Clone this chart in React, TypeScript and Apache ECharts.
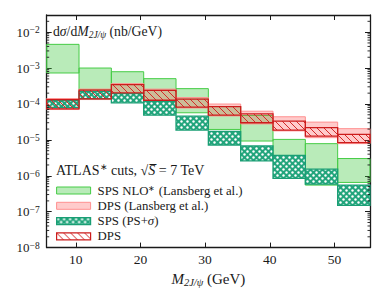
import React, { useEffect, useRef } from 'react';
import * as echarts from 'echarts';

// bin edges in GeV
const binEdges = [5.5, 10.5, 15.5, 20.5, 25.5, 30.5, 35.5, 40.5, 45.5, 50.5, 55.5];
// SPS NLO* (Lansberg et al.) band
const nloLow = [7.28e-4, 2.51e-4, 1.95e-4, 1.17e-4, 5.68e-5, 1.95e-5, 9.28e-6, 2.89e-6, 5.5e-7, 6.53e-7];
const nloHigh = [4.57e-3, 1.0e-3, 7.9e-4, 5.06e-4, 2.67e-4, 8.5e-5, 4.78e-5, 1.03e-5, 7.85e-6, 3.02e-6];
// DPS (Lansberg et al.) band
const dpsLansLow = [7.0e-5, 1.326e-4, 1.943e-4, 1.205e-4, 7.71e-5, 4.63e-5, 2.78e-5, 1.78e-5, 1.152e-5, 7.86e-6];
const dpsLansHigh = [1.413e-4, 2.59e-4, 3.68e-4, 2.59e-4, 1.506e-4, 9.95e-5, 6.28e-5, 4.4e-5, 3.12e-5, 2.05e-5];
// SPS (PS+sigma) band
const spsLow = [7.96e-5, 1.413e-4, 1.074e-4, 4.87e-5, 1.87e-5, 7.19e-6, 2.59e-6, 8.43e-7, 5.86e-7, 1.49e-7];
const spsHigh = [1.244e-4, 2.25e-4, 1.943e-4, 1.19e-4, 4.57e-5, 1.72e-5, 6.74e-6, 3.72e-6, 1.53e-6, 5.5e-7];
// DPS band
const dpsLow = [7.32e-5, 1.386e-4, 2.03e-4, 1.268e-4, 8.11e-5, 4.87e-5, 3.0e-5, 1.87e-5, 1.276e-5, 8.37e-6];
const dpsHigh = [1.326e-4, 2.43e-4, 3.45e-4, 2.4e-4, 1.369e-4, 8.48e-5, 5.32e-5, 3.32e-5, 2.18e-5, 1.42e-5];

const xMin = 5.5;
const xMax = 55.5;
const yMin = 1e-8;
const yMax = 3e-2;
const yDecades = [-8, -7, -6, -5, -4, -3, -2];
const minorMultipliers = [2, 3, 4, 5, 6, 7, 8, 9];

const seriesNames = ['SPS NLO* (Lansberg et al.)', 'DPS (Lansberg et al.)', 'SPS (PS+σ)', 'DPS'];

const FONT = 'Liberation Serif';
const INK = '#1a1a1a';

function makeHatch() {
  const s = 7;
  const c = document.createElement('canvas');
  c.width = s; c.height = s;
  const g = c.getContext('2d')!;
  g.strokeStyle = '#d42a2a';
  g.lineWidth = 1;
  for (const k of [-s, 0, s]) {
    g.beginPath();
    g.moveTo(k, 0);
    g.lineTo(k + s, s);
    g.stroke();
  }
  return { image: c, repeat: 'repeat', imageWidth: s, imageHeight: s };
}

function makeCross() {
  const s = 6;
  const c = document.createElement('canvas');
  c.width = s; c.height = s;
  const g = c.getContext('2d')!;
  g.fillStyle = '#22a57c';
  g.fillRect(0, 0, s, s);
  g.fillStyle = '#ffffff';
  for (const [cx, cy] of [[1.5, 1.5], [4.5, 4.5]]) {
    g.beginPath();
    g.arc(cx, cy, 1.2, 0, Math.PI * 2);
    g.fill();
  }
  return { image: c, repeat: 'repeat', imageWidth: s, imageHeight: s };
}

function bandSeries(name: string, lows: number[], highs: number[], fill: any, stroke: string, lw: number, z: number) {
  return {
    type: 'custom',
    name,
    z,
    silent: true,
    coordinateSystem: 'cartesian2d',
    xAxisIndex: 0,
    yAxisIndex: 0,
    encode: { x: [0, 1], y: [2, 3] },
    itemStyle: { color: fill, borderColor: stroke, borderWidth: lw },
    data: lows.map((lo, i) => [binEdges[i], binEdges[i + 1], lo, highs[i]]),
    renderItem: (params: any, api: any) => {
      const p1 = api.coord([api.value(0), api.value(3)]);
      const p2 = api.coord([api.value(1), api.value(2)]);
      return {
        type: 'rect',
        shape: { x: p1[0], y: p1[1], width: p2[0] - p1[0], height: p2[1] - p1[1] },
        style: { fill, stroke, lineWidth: lw },
      };
    },
  };
}

export default function App() {
  const ref = useRef<HTMLDivElement>(null);
  useEffect(() => {
    if (!ref.current) return;
    document.body.style.margin = '0';
    const chart = echarts.init(ref.current, null, { renderer: 'svg' });
    const hatch = makeHatch();
    const cross = makeCross();
    const nloFill = 'rgba(60,200,60,0.36)';
    const nloStroke = '#46cc46';
    const pinkFill = 'rgba(255,70,70,0.28)';
    const pinkStroke = '#ff9090';
    const crossStroke = '#1a9e74';
    const redStroke = '#cc1c1c';

    const minorVals: number[] = [];
    yDecades.forEach((e) => {
      minorMultipliers.forEach((m) => {
        const v = m * Math.pow(10, e);
        if (v < yMax) minorVals.push(v);
      });
    });

    const axisLineStyle = { color: INK, width: 1.3 };
    const xBase = {
      type: 'value',
      min: xMin,
      max: xMax,
      splitLine: { show: false },
      axisLine: { lineStyle: axisLineStyle },
      axisTick: { inside: true, length: 5, lineStyle: { color: INK, width: 1 } },
    };
    const yBase = {
      type: 'log',
      logBase: 10,
      min: yMin,
      max: yMax,
      splitLine: { show: false },
      minorTick: { show: false },
      axisLine: { show: true, lineStyle: axisLineStyle },
      axisTick: { inside: true, length: 5, lineStyle: { color: INK, width: 1 } },
    };

    const option: any = {
      animation: false,
      backgroundColor: '#ffffff',
      grid: { left: 46.7, right: 20, top: 15, bottom: 44 },
      xAxis: [
        {
          ...xBase,
          position: 'bottom',
          axisLabel: {
            margin: 5,
            color: INK,
            fontFamily: FONT,
            fontSize: 13.5,
            formatter: (v: number) => (Math.abs(v % 10) < 1e-6 ? String(v) : ''),
          },
          name: '{i|M}{sub|2J/ψ}{r| (GeV)}',
          nameLocation: 'middle',
          nameGap: 21,
          nameTextStyle: {
            color: INK,
            fontFamily: FONT,
            rich: {
              i: { fontSize: 15, fontStyle: 'italic', fontFamily: FONT, color: INK, lineHeight: 18 },
              sub: { fontSize: 10.5, fontStyle: 'italic', fontFamily: FONT, color: INK, lineHeight: 10, verticalAlign: 'bottom' },
              r: { fontSize: 15, fontFamily: FONT, color: INK, lineHeight: 18 },
            },
          },
        },
        { ...xBase, position: 'top', axisLabel: { show: false } },
      ],
      yAxis: [
        {
          ...yBase,
          position: 'left',
          axisLabel: {
            margin: 7,
            color: INK,
            formatter: (v: number) => {
              const e = Math.log10(v);
              const r = Math.round(e);
              if (Math.abs(e - r) > 1e-6) return '';
              return `{b|10}{s|−${-r}}`;
            },
            rich: {
              b: { fontSize: 13, fontFamily: FONT, color: INK, lineHeight: 14 },
              s: { fontSize: 9.5, fontFamily: FONT, color: INK, lineHeight: 9, verticalAlign: 'top' },
            },
          },
        },
        { ...yBase, position: 'right', axisLabel: { show: false } },
      ],
      legend: {
        orient: 'vertical',
        left: 56,
        top: 184,
        itemWidth: 34,
        itemHeight: 7,
        itemGap: 2.3,
        selectedMode: false,
        icon: 'rect',
        padding: 0,
        data: [
          { name: seriesNames[0], itemStyle: { color: nloFill, borderColor: nloStroke, borderWidth: 1 } },
          { name: seriesNames[1], itemStyle: { color: pinkFill, borderColor: pinkStroke, borderWidth: 1 } },
          { name: seriesNames[2], itemStyle: { color: cross, borderColor: crossStroke, borderWidth: 1.2 } },
          { name: seriesNames[3], itemStyle: { color: hatch, borderColor: redStroke, borderWidth: 1.2 } },
        ],
        formatter: (name: string) => {
          if (name === seriesNames[0]) return '{r|SPS NLO}{sup|∗}{r| (Lansberg et al.)}';
          if (name === seriesNames[1]) return '{r|DPS (Lansberg et al.)}';
          if (name === seriesNames[2]) return '{r|SPS (PS+}{i|σ}{r|)}';
          return '{r|DPS}';
        },
        textStyle: {
          padding: [0, 0, 0, 2],
          rich: {
            r: { fontSize: 12.8, fontFamily: FONT, color: INK, lineHeight: 13 },
            i: { fontSize: 12.8, fontFamily: FONT, fontStyle: 'italic', color: INK, lineHeight: 13 },
            sup: { fontSize: 8, fontFamily: FONT, color: INK, lineHeight: 8, verticalAlign: 'top' },
          },
        },
      },
      graphic: [
        {
          type: 'text',
          left: 53,
          top: 24,
          silent: true,
          style: {
            text: '{r|d}{i|σ}{r|/d}{i|M}{sub|2J/ψ}{r| (nb/GeV)}',
            rich: {
              r: { fontSize: 13.7, fontFamily: FONT, fill: INK, lineHeight: 17 },
              i: { fontSize: 13.7, fontFamily: FONT, fontStyle: 'italic', fill: INK, lineHeight: 17 },
              sub: { fontSize: 9.5, fontFamily: FONT, fontStyle: 'italic', fill: INK, lineHeight: 9, verticalAlign: 'bottom' },
            },
          },
        },
        {
          type: 'text',
          left: 56,
          top: 162,
          silent: true,
          style: {
            text: '{r|ATLAS}{sup|∗}{r| cuts, √}{i|S̅}{r| = 7 TeV}',
            rich: {
              r: { fontSize: 14, fontFamily: FONT, fill: INK, lineHeight: 17 },
              i: { fontSize: 14, fontFamily: FONT, fontStyle: 'italic', fill: INK, lineHeight: 17 },
              sup: { fontSize: 9, fontFamily: FONT, fill: INK, lineHeight: 9, verticalAlign: 'top' },
            },
          },
        },
      ],
      series: [
        bandSeries(seriesNames[0], nloLow, nloHigh, nloFill, nloStroke, 1, 1),
        bandSeries(seriesNames[1], dpsLansLow, dpsLansHigh, pinkFill, pinkStroke, 1, 2),
        bandSeries(seriesNames[2], spsLow, spsHigh, cross, crossStroke, 1.3, 3),
        bandSeries(seriesNames[3], dpsLow, dpsHigh, hatch, redStroke, 1.3, 4),
        {
          type: 'custom',
          name: 'minorTicks',
          silent: true,
          z: 10,
          coordinateSystem: 'cartesian2d',
          encode: { y: 0 },
          data: minorVals.map((v) => [v]),
          renderItem: (params: any, api: any) => {
            const cs = params.coordSys;
            const y = api.coord([xMin, api.value(0)])[1];
            const style = { stroke: INK, lineWidth: 0.9 };
            return {
              type: 'group',
              children: [
                { type: 'line', shape: { x1: cs.x, y1: y, x2: cs.x + 2.5, y2: y }, style },
                { type: 'line', shape: { x1: cs.x + cs.width, y1: y, x2: cs.x + cs.width - 2.5, y2: y }, style },
              ],
            };
          },
        },
      ],
    };
    chart.setOption(option);
    return () => chart.dispose();
  }, []);
  return <div ref={ref} style={{ width: 390, height: 293 }} />;
}
